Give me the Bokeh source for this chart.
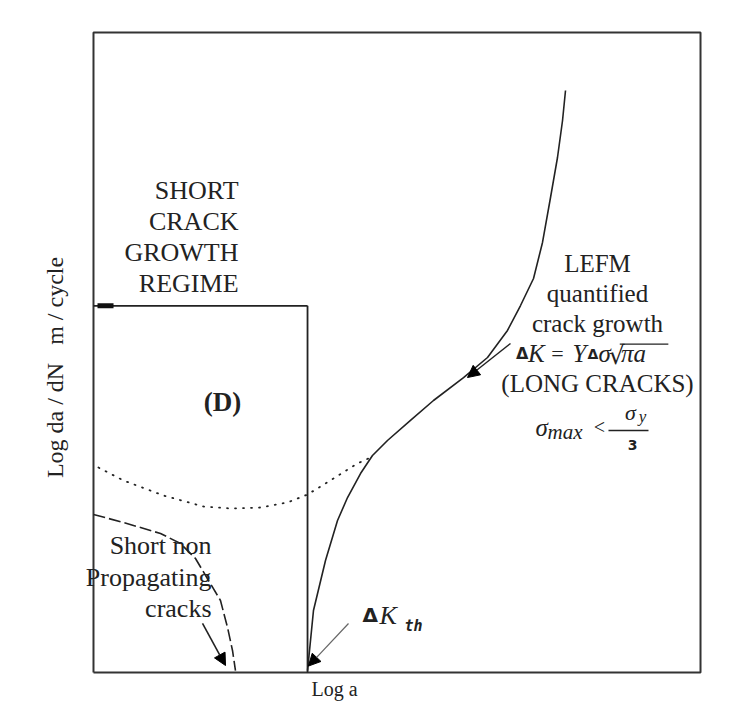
import math
from bokeh.plotting import figure
from bokeh.models import Range1d, Label, Arrow, NormalHead
from bokeh.embed import file_html
from bokeh.resources import INLINE

# ---- data (axis units: 0..100 on both log axes) ----
threshold_x = 35.26          # position of the long-crack threshold line
short_regime_top = 57.3      # upper limit of short crack regime box
marker_x = [0.66, 3.3]       # thick marker on regime line

main_x = [35.26, 36.24, 38.22, 40.20, 41.85, 43.99, 45.96, 48.43, 52.22, 56.01,
          60.96, 64.91, 68.20, 70.35, 72.49, 73.97, 75.29, 76.44, 77.27, 77.76]
main_y = [0.3, 9.69, 17.5, 23.75, 27.34, 31.09, 33.91, 36.25, 39.38, 42.5,
          46.09, 49.22, 53.44, 57.34, 61.56, 67.19, 74.22, 80.47, 86.25, 90.94]

dotted_x = [0.82, 4.94, 11.53, 18.12, 22.57, 27.51, 31.96, 35.26, 39.54, 43.49, 45.63]
dotted_y = [32.03, 30.0, 27.66, 25.94, 25.63, 25.78, 26.56, 27.81, 30.31, 32.66, 33.59]

dashed_x = [0.0, 4.94, 11.04, 14.33, 16.80, 18.95, 20.92, 22.08, 22.90, 23.39]
dashed_y = [24.69, 23.44, 21.72, 20.16, 17.81, 14.38, 11.25, 7.03, 3.44, 0.31]

box_x = [0, 100, 100, 0, 0]
box_y = [0, 0, 100, 100, 0]

short_lines = ["SHORT", "CRACK", "GROWTH", "REGIME"]
lefm_lines = ["LEFM", "quantified", "crack growth"]
np_lines = ["Short non", "Propagating", "cracks"]

SERIF = "Liberation Serif"
INK = "#222222"

p = figure(width=730, height=712, x_range=Range1d(-15.32, 104.94), y_range=Range1d(-6.25, 105.0),
           output_backend="svg", toolbar_location=None,
           x_axis_location=None, y_axis_location=None,
           min_border=0)
p.grid.visible = False
p.outline_line_color = None
p.background_fill_color = "white"
p.border_fill_color = "white"

# plot box
p.line(box_x, box_y, line_color="#333333", line_width=2)

# short crack regime box
p.line([threshold_x, threshold_x], [0, short_regime_top], line_color=INK, line_width=1.8)
p.line([0, threshold_x], [short_regime_top, short_regime_top], line_color=INK, line_width=1.8)
p.line(marker_x, [short_regime_top, short_regime_top], line_color="#111111", line_width=5)

# curves
p.line(main_x, main_y, line_color=INK, line_width=1.6)
p.line(dotted_x, dotted_y, line_color=INK, line_width=1.8, line_dash="1 7", line_cap="round")
p.line(dashed_x, dashed_y, line_color=INK, line_width=1.6, line_dash="12 4")

# arrows
p.add_layout(Arrow(end=NormalHead(size=12, fill_color="black", line_color="black"),
                   x_start=17.96, y_start=7.66, x_end=21.75, y_end=1.09,
                   line_color=INK, line_width=1.6))
p.add_layout(Arrow(end=NormalHead(size=12, fill_color="black", line_color="black"),
                   x_start=42.01, y_start=7.66, x_end=35.4, y_end=1.0,
                   line_color="#666666", line_width=1.2))
p.add_layout(Arrow(end=NormalHead(size=12, fill_color="black", line_color="black"),
                   x_start=68.70, y_start=51.41, x_end=61.61, y_end=46.09,
                   line_color=INK, line_width=1.4))

def lab(x, y, t, size, align="center", style="normal", font=SERIF, color=INK, angle=0, baseline="middle"):
    p.add_layout(Label(x=x, y=y, text=t, text_font=font, text_font_size=f"{size}px",
                       text_align=align, text_baseline=baseline, text_font_style=style,
                       text_color=color, angle=angle))

step = 31 / 6.4
for i, t in enumerate(short_lines):
    lab(23.89, 75.31 - i * step, t, 26, align="right")

lab(21.25, 42.19, "(D)", 27, style="bold")

for i, t in enumerate(lefm_lines):
    lab(83.03, 63.91 - i * (30 / 6.4), t, 25)

# Delta K = Y Delta sigma sqrt(pi a)
lab(69.6, 49.84, "\u0394", 16, align="left", style="bold", font="DejaVu Sans")
lab(71.6, 49.84, "K", 25, align="left", style="italic")
lab(75.4, 49.84, "=", 22, align="left")
lab(78.9, 49.84, "Y", 25, align="left", style="italic")
lab(81.4, 49.84, "\u0394", 14, align="left", style="bold", font="DejaVu Sans")
lab(83.2, 49.84, "\u03c3", 25, align="left", style="italic")
lab(84.9, 49.6, "\u221a", 25, align="left", font="DejaVu Serif")
lab(86.9, 49.84, "\u03c0a", 25, align="left", style="italic")
p.line([86.7, 94.7], [51.3, 51.3], line_color=INK, line_width=1.3)
lab(83.03, 45.16, "(LONG CRACKS)", 25)

# sigma_max < sigma_y / 3
lab(72.82, 38.28, "\u03c3", 25, align="left", style="italic")
lab(74.79, 37.6, "max", 21, align="left", style="italic")
lab(83.36, 38.3, "<", 20)
p.line([84.84, 91.43], [37.81, 37.81], line_color=INK, line_width=1.5)
lab(88.47, 40.7, "\u03c3", 22, style="italic")
lab(90.44, 40.0, "y", 17, style="italic")
lab(88.80, 35.6, "3", 14, style="bold", font="DejaVu Sans")

# Delta K_th
lab(44.32, 8.91, "\u0394", 20, align="left", style="bold", font="DejaVu Sans")
lab(47.12, 8.91, "K", 26, align="left", style="italic")
lab(51.24, 7.3, "th", 15, align="left", style="bold italic", font="DejaVu Sans Mono")

for i, t in enumerate(np_lines):
    lab(19.44, 19.84 - i * (31.5 / 6.4), t, 26, align="right")

# axis titles
lab(39.70, -2.5, "Log a", 20)
lab(-6.26, 47.66, "Log da / dN\u00a0\u00a0 m / cycle", 24, angle=math.pi / 2)

open("out.html", "w").write(file_html(p, INLINE))
